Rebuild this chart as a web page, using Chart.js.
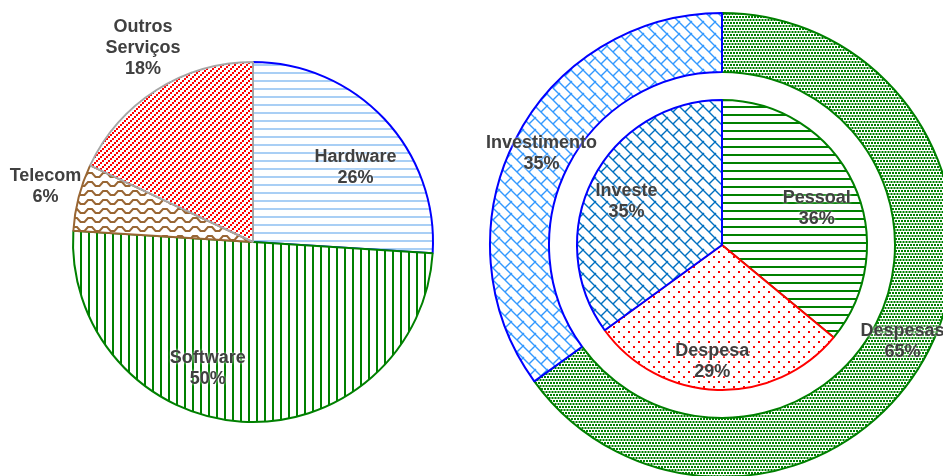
<!DOCTYPE html>
<html>
<head>
<meta charset="utf-8">
<script src="https://cdn.jsdelivr.net/npm/chart.js@4/dist/chart.umd.min.js"></script>
<style>
  html, body { margin: 0; padding: 0; width: 943px; height: 476px; overflow: hidden; background: #fff; }
  #left { position: absolute; left: 0; top: 0; width: 506px; height: 484px; }
  #right { position: absolute; left: 487px; top: 10px; width: 470px; height: 470px; }
</style>
</head>
<body>
<div id="left"><canvas id="c1" width="506" height="484"></canvas></div>
<div id="right"><canvas id="c2" width="470" height="470"></canvas></div>
<script>
// ---- data ----
const pieCategories = ['Hardware', 'Software', 'Telecom', 'Outros Serviços'];
const pieValues = [26, 50, 6, 18];
const ringCategories = ['Despesas', 'Investimento'];
const ringValues = [65, 35];
const innerCategories = ['Pessoal', 'Despesa', 'Investe'];
const innerValues = [36, 29, 35];

// ---- patterns ----
function makePattern(w, h, draw) {
  const c = document.createElement('canvas');
  c.width = w; c.height = h;
  const g = c.getContext('2d');
  g.fillStyle = '#ffffff';
  g.fillRect(0, 0, w, h);
  draw(g);
  return document.createElement('canvas').getContext('2d').createPattern(c, 'repeat');
}
const hLines = (color, th) => makePattern(8, 8, g => { g.fillStyle = color; g.fillRect(0, 0, 8, th); });
const vLines = (color, th) => makePattern(8, 8, g => { g.fillStyle = color; g.fillRect(0, 0, th, 8); });
const upDiag = color => makePattern(6, 6, g => {
  g.fillStyle = color;
  g.fillRect(0, 4, 2, 2); g.fillRect(2, 2, 2, 2); g.fillRect(4, 0, 2, 2);
});
const wave = color => makePattern(15, 9, g => {
  g.strokeStyle = color; g.lineWidth = 2;
  g.beginPath();
  g.moveTo(-2, 2); g.lineTo(2, 2); g.lineTo(5.5, 6); g.lineTo(9.5, 6); g.lineTo(13, 2); g.lineTo(17, 2);
  g.stroke();
});
const brick = color => makePattern(12, 12, g => {
  g.strokeStyle = color; g.lineWidth = 1.4;
  g.beginPath();
  g.moveTo(-1, -1); g.lineTo(13, 13);
  g.moveTo(6, 6); g.lineTo(13, -1);
  g.moveTo(-1, 13); g.lineTo(1, 11);
  g.stroke();
});
const checker = color => makePattern(6, 6, g => {
  g.fillStyle = color;
  g.fillRect(0, 0, 2, 2); g.fillRect(3, 0, 2, 2);
  g.fillRect(1.5, 3, 2, 2); g.fillRect(4.5, 3, 2, 2); g.fillRect(-1.5, 3, 2, 2);
});
const dots = color => makePattern(10, 10, g => {
  g.fillStyle = color; g.fillRect(1, 1, 2, 2); g.fillRect(6, 6, 2, 2);
});

// ---- label plugin ----
const sliceLabels = {
  id: 'sliceLabels',
  afterDatasetsDraw(chart, args, opts) {
    const ctx = chart.ctx;
    ctx.save();
    ctx.font = 'bold 18px "Liberation Sans", Arial, sans-serif';
    ctx.fillStyle = '#404040';
    ctx.textAlign = 'center';
    ctx.textBaseline = 'middle';
    ctx.shadowColor = 'rgba(255,255,255,0.95)';
    ctx.shadowBlur = 3;
    Object.keys(opts.placements).forEach(di => {
      const ds = chart.data.datasets[di];
      const meta = chart.getDatasetMeta(+di);
      const total = ds.data.reduce((a, b) => a + b, 0);
      meta.data.forEach((arc, i) => {
        const p = arc.getProps(['x', 'y', 'startAngle', 'endAngle', 'innerRadius', 'outerRadius'], true);
        const pl = opts.placements[di][i];
        const mid = (p.startAngle + p.endAngle) / 2;
        const r = p.innerRadius + (p.outerRadius - p.innerRadius) * pl.k;
        const cx = p.x + Math.cos(mid) * r + pl.dx;
        const cy = p.y + Math.sin(mid) * r + pl.dy;
        const lines = ds.categories[i].split(' ').concat([Math.round(ds.data[i] / total * 100) + '%']);
        const lh = 21;
        lines.forEach((t, j) => {
          ctx.fillText(t, cx, cy + (j - (lines.length - 1) / 2) * lh);
        });
      });
    });
    ctx.restore();
  }
};

// ---- left pie ----
new Chart(document.getElementById('c1'), {
  type: 'pie',
  data: {
    labels: pieCategories,
    datasets: [{
      data: pieValues,
      categories: pieCategories,
      backgroundColor: [hLines('#a9cff5', 2), vLines('#008000', 2), wave('#996633'), upDiag('#ff0000')],
      borderColor: ['#0000ff', '#008000', '#996633', '#a6a6a6'],
      borderWidth: 2
    }]
  },
  options: {
    responsive: false,
    animation: false,
    events: [],
    radius: 180,
    layout: { padding: 0 },
    plugins: {
      legend: { display: false },
      tooltip: { enabled: false },
      sliceLabels: {
        placements: {
          0: [
            { k: 0.72, dx: 8, dy: 14 },
            { k: 0.72, dx: -37, dy: -3 },
            { k: 1.15, dx: -7, dy: -4 },
            { k: 1.15, dx: 1, dy: -19 }
          ]
        }
      }
    }
  },
  plugins: [sliceLabels]
});

// ---- right: outer ring + inner pie ----
new Chart(document.getElementById('c2'), {
  type: 'doughnut',
  data: {
    datasets: [
      {
        data: ringValues,
        categories: ringCategories,
        weight: 59,
        backgroundColor: [checker('#008000'), brick('#3399ff')],
        borderColor: ['#008000', '#0000ff'],
        borderWidth: 2
      },
      {
        data: [1],
        categories: [''],
        weight: 28,
        backgroundColor: ['rgba(0,0,0,0)'],
        borderWidth: 0
      },
      {
        data: innerValues,
        categories: innerCategories,
        weight: 145,
        backgroundColor: [hLines('#008000', 2), dots('#ff0000'), brick('#0070c0')],
        borderColor: ['#008000', '#ff0000', '#0000ff'],
        borderWidth: 2
      }
    ]
  },
  options: {
    responsive: false,
    animation: false,
    events: [],
    cutout: 0,
    radius: 232,
    layout: { padding: 0 },
    plugins: {
      legend: { display: false },
      tooltip: { enabled: false },
      sliceLabels: {
        placements: {
          0: [
            { k: 0.5, dx: 0, dy: 5 },
            { k: 0.5, dx: 0, dy: 0 }
          ],
          2: [
            { k: 0.7, dx: 3, dy: 7 },
            { k: 0.8, dx: -6, dy: 1 },
            { k: 0.7, dx: -5, dy: 3 }
          ]
        }
      }
    }
  },
  plugins: [sliceLabels]
});
</script>
</body>
</html>
